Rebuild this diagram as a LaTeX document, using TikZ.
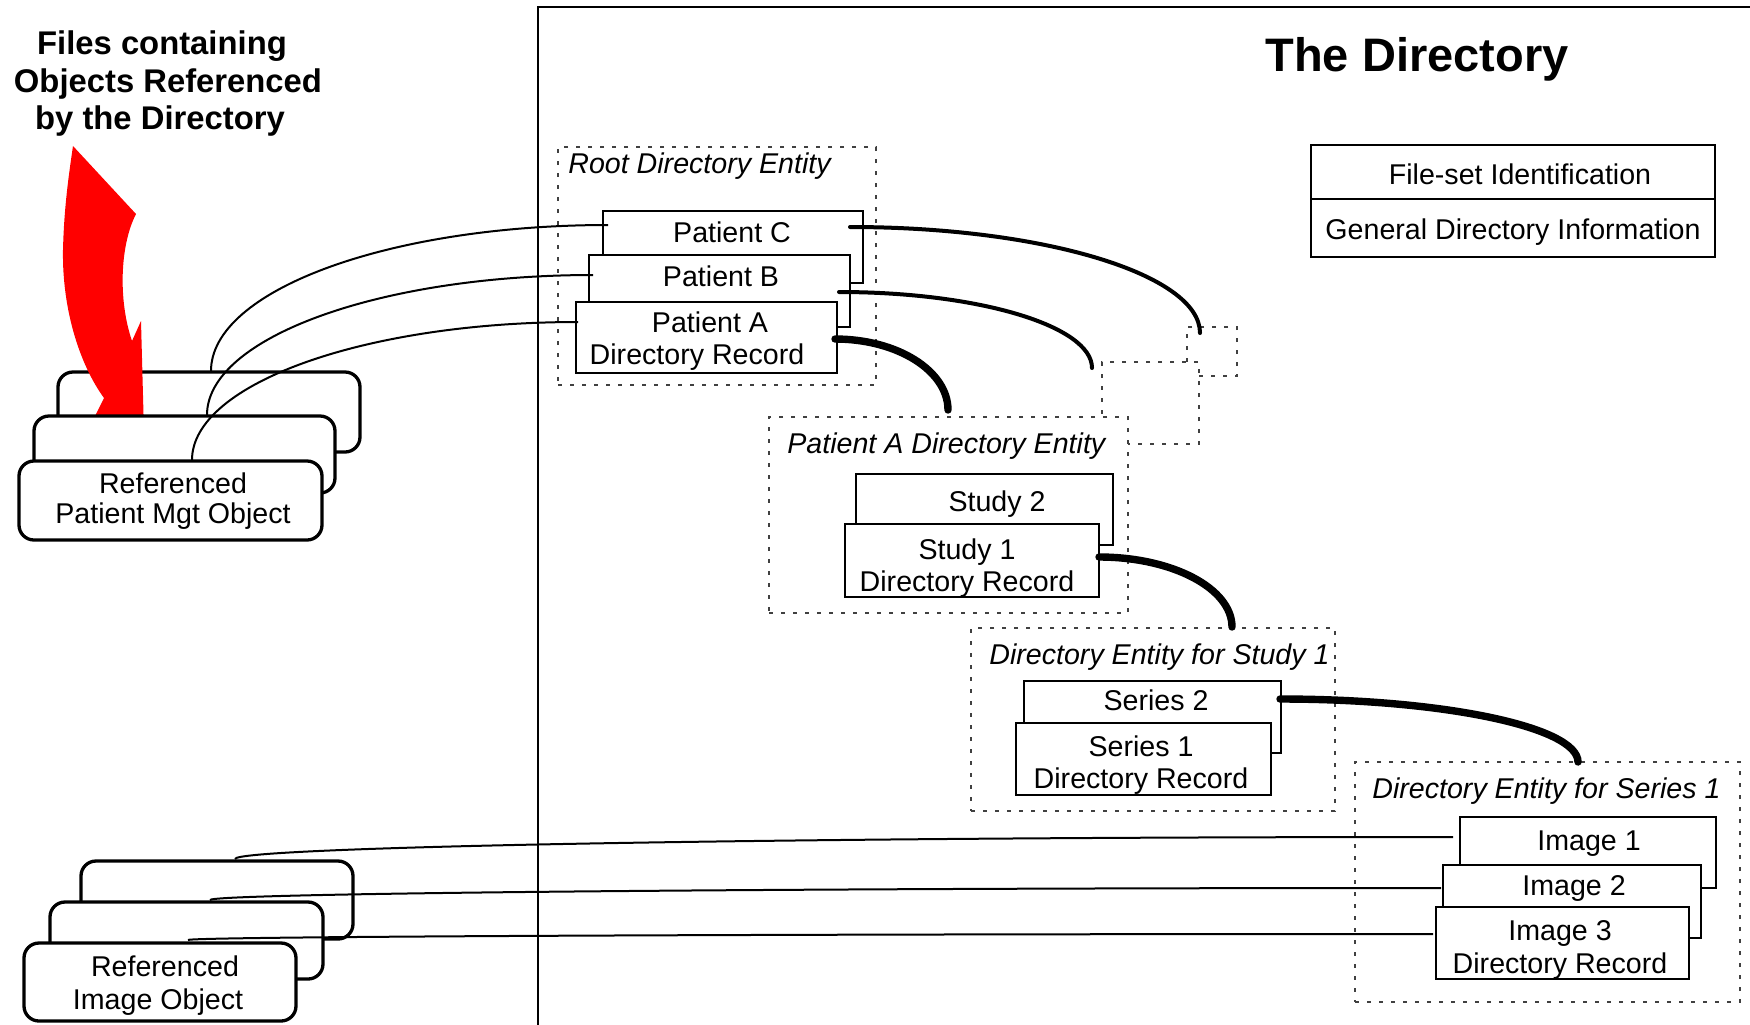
\documentclass[tikz,border=0pt]{standalone}
\usepackage{fontspec}
\setmainfont{Liberation Sans}
\usetikzlibrary{calc,fit}
\newcommand{\rtxt}{\fontsize{14.3}{16.3}\selectfont}
\newcommand{\ltxt}{\fontsize{14.3}{16.3}\selectfont\itshape}
\tikzset{
 recbox/.style={draw, fill=white, line width=1.35pt, inner sep=0pt, outer sep=0pt},
 entbox/.style={draw=black!75, fill=white, line width=0.6pt, dash pattern=on 2.2pt off 3.8pt, inner sep=0pt, outer sep=0pt},
 objbox/.style={draw, fill=white, line width=1.65pt, rounded corners=7.5pt, inner sep=0pt, outer sep=0pt},
 infobox/.style={draw, line width=1.1pt, inner sep=0pt, outer sep=0pt},
 txt/.style={font=\rtxt, inner sep=0pt, anchor=base},
 mtxt/.style={font=\rtxt, inner sep=0pt, align=center},
 etxt/.style={font=\ltxt, inner sep=0pt, anchor=base west},
 thinlink/.style={line width=1pt},
 midlink/.style={line width=2pt, line cap=round},
 fatlink/.style={line width=3.7pt, line cap=round},
 upright/.style={to path={.. controls ($(\tikztostart)!0.552!(\tikztostart|-\tikztotarget)$) and ($(\tikztotarget)!0.552!(\tikztostart|-\tikztotarget)$) .. (\tikztotarget)}},
 rightdown/.style={to path={.. controls ($(\tikztostart)!0.552!(\tikztotarget|-\tikztostart)$) and ($(\tikztotarget)!0.552!(\tikztotarget|-\tikztostart)$) .. (\tikztotarget)}},
}
\begin{document}
\begin{tikzpicture}[x=0.5pt,y=-0.5pt]
\fill[white] (0,0) rectangle (1750,1024);
\useasboundingbox (0,0) rectangle (1750,1024);

% directory frame
\draw[line width=1.1pt] (538,1040) -- (538,7) -- (1760,7);

% titles
\node[font=\fontsize{16.4}{18.75}\selectfont\bfseries, align=center, inner sep=0pt] (ttl) at (168,84) {Files containing\hspace*{6pt}\\Objects Referenced\\by the Directory\hspace*{8pt}};
\node[font=\fontsize{23.5}{28}\selectfont\bfseries, inner sep=0pt, anchor=base] (dirttl) at (1417,71) {The Directory};

% file-set info
\node[infobox, fit={(1311,145) (1715,199)}] (fs1) {};
\node[infobox, fit={(1311,199) (1715,257)}] (fs2) {};
\node[txt] (fs1t) at (1520,184) {File-set Identification};
\node[txt] (fs2t) at (1513,239) {General Directory Information};

% root directory entity
\node[entbox, fit={(558,147) (876,385)}] (root) {};
\node[etxt] (rootl) at (568,173) {Root Directory Entity};
\node[recbox, fit={(603,211) (863,283)}] (pc) {};
\node[txt] (pct) at (732,242) {Patient C};
\node[recbox, fit={(589,255) (850,327)}] (pb) {};
\node[txt] (pbt) at (721,286) {Patient B};
\node[recbox, fit={(576,302) (837,373)}] (pa) {};
\node[mtxt] (pat) at (697,341) {\hspace*{13pt}Patient A\\Directory Record};

% patient entities
\node[entbox, fit={(1187,327) (1237,376)}] (ceC) {};
\node[entbox, fit={(1102,362) (1199,444)}] (ceB) {};
\node[entbox, fit={(769,417) (1128,613)}] (ceA) {};
\node[etxt] (ceAl) at (787,453) {Patient A Directory Entity};
\node[recbox, fit={(856,474) (1113,545)}] (s2) {};
\node[txt] (s2t) at (997,511) {Study 2};
\node[recbox, fit={(845,524) (1099,597)}] (s1) {};
\node[mtxt] (s1t) at (967,568) {Study 1\\Directory Record};

% study entity
\node[entbox, fit={(971,628) (1335,811)}] (se) {};
\node[etxt] (sel) at (989,664) {Directory Entity for Study 1};
\node[recbox, fit={(1024,681) (1281,753)}] (r2) {};
\node[txt] (r2t) at (1156,710) {Series 2};
\node[recbox, fit={(1016,723) (1271,795)}] (r1) {};
\node[mtxt] (r1t) at (1141,765) {Series 1\\Directory Record};

% series entity
\node[entbox, fit={(1355,762) (1740,1002)}] (ie) {};
\node[etxt] (iel) at (1372,798) {Directory Entity for Series 1};
\node[recbox, fit={(1460,817) (1716,888)}] (i1) {};
\node[txt] (i1t) at (1589,850) {Image 1};
\node[recbox, fit={(1443,865) (1701,938)}] (i2) {};
\node[txt] (i2t) at (1574,895) {Image 2};
\node[recbox, fit={(1436,907) (1689,979)}] (i3) {};
\node[mtxt] (i3t) at (1560,950) {Image 3\\Directory Record};

% referenced patient mgt objects
\node[objbox, fit={(58,372) (360,452)}] (pm3) {};
\fill[red] (73,146) -- (136,214) .. controls (120,245) and (118,300) .. (132,341) -- (141,321) -- (145,470) -- (88,430) -- (104,398) .. controls (80,365) and (62,310) .. (63,250) .. controls (64,210) and (68,180) .. (73,146) -- cycle;
\node[objbox, fit={(34,416) (335,493)}] (pm2) {};
\node[objbox, fit={(19,461) (322,540)}] (pm1) {};
\node[mtxt, font=\fontsize{14.3}{15}\selectfont] (pmt) at (173,501) {Referenced\\Patient Mgt Object};

% referenced image objects
\node[objbox, fit={(81,861) (353,939)}] (io3) {};
\node[objbox, fit={(50,902) (323,979)}] (io2) {};
\node[objbox, fit={(24,943) (296,1021)}] (io1) {};
\node[mtxt, font=\fontsize{14.3}{16.5}\selectfont] (iot) at (158,986) {\hspace*{7pt}Referenced\\Image Object};

% connector end points
\coordinate (lcS) at ([shift={(153,-1)}]pm3.north west);
\coordinate (lcE) at ([shift={(5,14)}]pc.north west);
\coordinate (lbS) at ([shift={(173,-1)}]pm2.north west);
\coordinate (lbE) at ([shift={(4,20)}]pb.north west);
\coordinate (laS) at ([shift={(173,-1)}]pm1.north west);
\coordinate (laE) at ([shift={(2,20)}]pa.north west);
\coordinate (l1S) at ([shift={(154,-2)}]io3.north west);
\coordinate (l1E) at ([shift={(-7,20)}]i1.north west);
\coordinate (l2S) at ([shift={(160,-2)}]io2.north west);
\coordinate (l2E) at ([shift={(-2,23)}]i2.north west);
\coordinate (l3S) at ([shift={(164,-3)}]io1.north west);
\coordinate (l3E) at ([shift={(-3,27)}]i3.north west);

\coordinate (rcS) at ([shift={(-13,16)}]pc.north east);
\coordinate (rcE) at ([shift={(13,6)}]ceC.north west);
\coordinate (rbS) at ([shift={(-11,37)}]pb.north east);
\coordinate (rbE) at ([shift={(-10,6)}]ceB.north west);
\coordinate (raS) at ([shift={(-2,37)}]pa.north east);
\coordinate (raE) at ([shift={(179,-7)}]ceA.north west);
\coordinate (rsS) at ([shift={(0,33)}]s1.north east);
\coordinate (rsE) at ([shift={(261,-1)}]se.north west);
\coordinate (rrS) at ([shift={(-1,18)}]r2.north east);
\coordinate (rrE) at ([shift={(223,0)}]ie.north west);

% hierarchy links
\draw[midlink] (rcS) to[rightdown] (rcE);
\draw[midlink] (rbS) to[rightdown] (rbE);
\draw[fatlink] (raS) to[rightdown] (raE);
\draw[fatlink] (rsS) to[rightdown] (rsE);
\draw[fatlink] (rrS) to[rightdown] (rrE);

% references to files
\draw[thinlink] (lcS) to[upright] (lcE);
\draw[thinlink] (lbS) to[upright] (lbE);
\draw[thinlink] (laS) to[upright] (laE);
\draw[thinlink] (l1S) to[upright] (l1E);
\draw[thinlink] (l2S) to[upright] (l2E);
\draw[thinlink] (l3S) to[upright] (l3E);
\end{tikzpicture}
\end{document}
